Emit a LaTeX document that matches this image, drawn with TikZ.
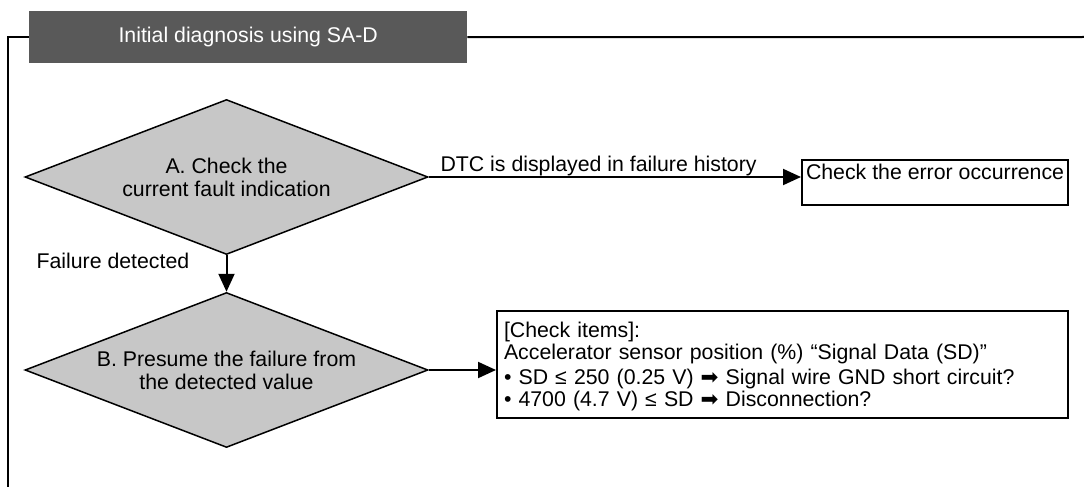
\documentclass[tikz,border=0pt]{standalone}
\usepackage{fontspec}
\setmainfont{Liberation Sans}
\newfontfamily\symfont{DejaVu Sans}
\usetikzlibrary{shapes.geometric,arrows.meta}
\begin{document}
\begin{tikzpicture}[x=1pt,y=-1pt,
  every node/.style={font=\fontsize{21.3}{23}\selectfont},
  dec/.style={diamond, draw=black, line width=1.5pt, fill=black!22, shape aspect=2.6,
    minimum width=403pt, minimum height=155pt, inner sep=0pt, align=center},
  conn/.style={line width=2pt, -{Triangle[length=18pt,width=16pt]}},
  framel/.style={line width=2pt},
  boxn/.style={draw=black, line width=2pt, fill=white}]
\useasboundingbox (0,0) rectangle (1084,487);
% title bar and frame
\node[fill=black!65, minimum width=438pt, minimum height=52pt, anchor=north west,
  text=white, inner sep=0pt] (title) at (29,11) {Initial diagnosis using SA-D};
\coordinate (fbl) at (8,487);
\coordinate (ftr) at (1084,37);
\draw[framel] (title.west) -- (fbl |- title.west) -- (fbl);
\draw[framel] (title.east) -- (ftr);
% decisions
\node[dec] (A) at (226.5,177) {A. Check the\\current fault indication};
\node[dec] (B) at (226.5,370) {B. Presume the failure from\\the detected value};
\draw[conn] (A.south) -- (B.north);
\node[anchor=base west] (fd) at (33,268) {Failure detected};
% result box 1
\node[boxn, anchor=base west, text height=15.5pt, text depth=22pt, inner xsep=4pt,
  inner ysep=4pt, minimum width=266pt] (E) at (801,179) {Check the error occurrence};
\draw[conn] (A.east) -- (A.east -| E.west);
\node[anchor=base west] (dtc) at (437,171) {DTC is displayed in failure history};
% result box 2
\node[boxn, anchor=north west, align=left, text width=557pt, inner xsep=7pt, inner ysep=7pt,
  font=\fontsize{21.3}{22}\selectfont]
  (C) at (496,310) {\rule{0pt}{19.6pt}[Check items]:\\
Accelerator sensor position (\%) “Signal Data (SD)”\\[3pt]
• SD ≤ 250 (0.25 V) {\symfont ➡} Signal wire GND short circuit?\\
• 4700 (4.7 V) ≤ SD {\symfont ➡} Disconnection?};
\draw[conn] (B.east) -- (B.east -| C.west);
\end{tikzpicture}
\end{document}
